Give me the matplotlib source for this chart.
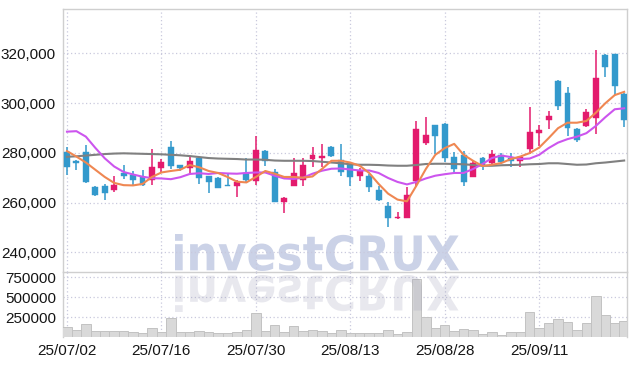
import matplotlib
matplotlib.use("Agg")
import matplotlib.pyplot as plt
import matplotlib.transforms as mtransforms
from matplotlib.textpath import TextPath
from matplotlib.patches import PathPatch
from matplotlib.font_manager import FontProperties
from matplotlib.ticker import FuncFormatter
import numpy as np
import pandas as pd

# --- DATA
dates = pd.bdate_range("2025-07-02", periods=61)
dates = dates[dates != pd.Timestamp("2025-08-15")]   # holiday

opens = [280400, 276900, 280400, 266400, 266700, 264900, 271900, 271200, 270100, 268900,
         274000, 282400, 275100, 274000, 278100, 270500, 270000, 267100, 266500, 272000,
         268500, 280800, 272400, 260100, 266500, 268900, 277700, 278100, 282400, 277100,
         275600, 270500, 270500, 264900, 258800, 253700, 253900, 268500, 284100, 291200,
         291500, 278500, 279100, 270100, 277900, 275900, 279200, 278100, 276900, 281500,
         288100, 293300, 308900, 303900, 289500, 290900, 294000, 319200, 319600, 303600]
closes = [274500, 276100, 268100, 262900, 263700, 267100, 270500, 268900, 266900, 274300,
          276400, 274800, 274000, 276700, 269700, 268100, 266000, 266800, 268100, 268900,
          281200, 276900, 260100, 262000, 272000, 275200, 279200, 278900, 278700, 272300,
          270100, 272800, 266300, 260900, 253900, 254300, 263200, 289500, 287200, 286900,
          278100, 273600, 268100, 276000, 275100, 279500, 276500, 276700, 278500, 288300,
          289200, 294700, 298900, 290100, 285200, 296400, 309900, 314500, 306900, 293300]
highs = [282500, 277000, 283000, 266800, 267500, 270500, 275100, 272700, 273200, 281500,
         277500, 284700, 275200, 278500, 278200, 270600, 270300, 271600, 269200, 278000,
         286800, 281100, 273500, 262300, 277900, 278100, 282300, 283600, 282800, 283600,
         275700, 273700, 271600, 266500, 260100, 256300, 266300, 292900, 294500, 291300,
         292100, 280400, 280700, 277200, 278500, 281200, 280100, 280100, 278800, 298500,
         291200, 296900, 309200, 306500, 290000, 297700, 321500, 319600, 319600, 303900]
lows = [270900, 273200, 267800, 262500, 261200, 264300, 269500, 266800, 266500, 267100,
        271900, 273500, 272500, 271900, 267600, 263900, 265700, 266500, 262300, 268400,
        267100, 274800, 260100, 255900, 266500, 266800, 274500, 274500, 278500, 270500,
        266500, 268500, 264400, 260700, 250000, 253200, 253900, 266300, 283200, 279500,
        276500, 272100, 266500, 270100, 273200, 274800, 275600, 274500, 274300, 279600,
        282800, 289500, 297200, 286900, 284300, 290300, 287500, 310500, 303200, 290500]
volumes = [125000, 84700, 161300, 80600, 76600, 80600, 80600, 64500, 52400, 112900,
           68500, 233900, 68500, 68500, 76600, 64500, 44400, 44400, 64500, 88700,
           294300, 76600, 149200, 68500, 133000, 76600, 88700, 76600, 52400, 88700,
           52400, 44400, 52400, 52400, 88700, 32300, 64500, 729800, 246000, 112900,
           149200, 76600, 100800, 88700, 40300, 64500, 28200, 64500, 64500, 318500,
           112900, 173400, 221800, 185500, 88700, 173400, 512100, 270100, 173400, 197600]

ma_short = [280700, 278500, 276100, 273200, 270300, 267900, 267000, 266900, 267500, 270300,
            272100, 272700, 273200, 275100, 274200, 272700, 271900, 270300, 268400, 268100,
            270300, 272700, 271600, 270300, 270300, 270000, 270500, 273500, 276800, 276800,
            276100, 274800, 271900, 267500, 263600, 261200, 260500, 266800, 273500, 279200,
            281900, 283600, 279200, 276800, 274700, 275200, 275900, 277500, 278500, 279900,
            282100, 285900, 289900, 292100, 292100, 292800, 296100, 299900, 303200, 304500]
ma_mid = [288500, 288700, 286500, 282000, 277800, 274500, 272300, 271300, 270400, 269800,
          269700, 269400, 270200, 271500, 271800, 271500, 271900, 271700, 271600, 271900,
          272100, 272100, 270800, 269700, 269500, 270000, 271600, 272800, 273600, 273700,
          273300, 272900, 272900, 271900, 269900, 268300, 267300, 268300, 269700, 270800,
          271400, 271900, 271900, 273500, 275500, 277900, 278900, 278300, 277500, 277700,
          279200, 281900, 284100, 285500, 286500, 287900, 290800, 294300, 297500, 297900]
ma_long = [278400, 278600, 278900, 279200, 279500, 279700, 279800, 279700, 279600, 279500,
           279400, 279200, 279000, 278700, 278300, 277900, 277700, 277600, 277500, 277300,
           277300, 277200, 276900, 276800, 276800, 276800, 276700, 276400, 276100, 275800,
           275400, 275200, 275200, 275100, 274900, 274800, 274800, 275100, 275500, 275600,
           275600, 275500, 275400, 275100, 274800, 274800, 275000, 275100, 275200, 275400,
           275500, 275800, 275800, 275500, 275200, 275300, 275800, 276100, 276500, 276900]

tick_idx = list(range(0, 60, 10))
tick_labels = [dates[i].strftime("%y/%m/%d") for i in tick_idx]

UP = "#e31b6d"
DOWN = "#3399cc"
GRID = "#c9c9dd"
SPINE = "#cfcfcf"
TXT = "#151515"
W, H = 637, 366

plt.rcParams["font.family"] = ["Liberation Sans Narrow", "Liberation Sans", "DejaVu Sans"]

fig = plt.figure(figsize=(W / 100, H / 100), dpi=100, facecolor="white")
ax = fig.add_axes([63 / W, (H - 272) / H, 564 / W, 263 / H])
axv = fig.add_axes([63 / W, (H - 337) / H, 564 / W, 65 / H], sharex=ax)
for a in (ax, axv):
    a.set_facecolor("none")

x = np.arange(len(opens))
o = np.array(opens); c = np.array(closes)
hi = np.array(highs); lo = np.array(lows)
cols = np.where(c >= o, UP, DOWN)

# --- CANDLES
ax.vlines(x, lo, hi, colors=cols, linewidth=1.1, zorder=3)
ax.bar(x, np.abs(c - o), bottom=np.minimum(o, c), width=0.62, color=cols,
       edgecolor=cols, linewidth=0.3, zorder=4)

# --- MOVING AVERAGES
ax.plot(x, ma_long, color="#808080", linewidth=1.5, zorder=5)
ax.plot(x, ma_mid, color="#cc55ee", linewidth=1.5, zorder=5)
ax.plot(x, ma_short, color="#ef8752", linewidth=1.5, zorder=5)

ax.set_xlim(-0.42, 59.3)
ax.set_ylim(232100, 337800)
ax.set_yticks([240000, 260000, 280000, 300000, 320000])
ax.yaxis.set_major_formatter(FuncFormatter(lambda v, p: f"{int(v):,}"))

# --- VOLUME
axv.bar(x, volumes, width=1.0, color="#d9d9d9", edgecolor="#c2c2c2", linewidth=0.7, zorder=3)
axv.set_ylim(0, 813000)
axv.set_yticks([250000, 500000, 750000])
axv.set_xticks(tick_idx)
axv.set_xticklabels(tick_labels)

for a in (ax, axv):
    a.grid(True, color=GRID, linestyle=(0, (1, 2)), linewidth=0.9)
    a.set_axisbelow(True)
    a.tick_params(length=0, labelsize=11, colors=TXT, pad=5)
    for s in a.spines.values():
        s.set_color(SPINE)
        s.set_linewidth(1.0)
ax.tick_params(labelbottom=False)
axv.spines["top"].set_visible(False)
axv.spines["bottom"].set_visible(False)
axv.tick_params(axis="x", pad=5)

# --- WATERMARK
tp = TextPath((0, 0), "investCRUX", size=100,
              prop=FontProperties(family="Liberation Sans Narrow", weight="bold"))
bb = tp.get_extents()


def place(x0, x1, y_base, y_top, flip):
    sx = (x1 - x0) / bb.width
    sy = abs(y_base - y_top) / bb.height
    tr = mtransforms.Affine2D().translate(-bb.x0, -bb.y0)
    tr = tr.scale(sx / 100, (-sy if flip else sy) / 100).translate(x0 / 100, (H - y_base) / 100)
    return tr + fig.dpi_scale_trans


fig.add_artist(PathPatch(tp, transform=place(175, 459, 271, 234, False),
                         facecolor="#cbd2e7", edgecolor="none", zorder=-1))
fig.add_artist(PathPatch(tp, transform=place(175, 459, 275, 312, True),
                         facecolor="#9a9ab4", edgecolor="none", alpha=0.22, zorder=6))

fig.savefig("out.png", dpi=100, facecolor="white")
